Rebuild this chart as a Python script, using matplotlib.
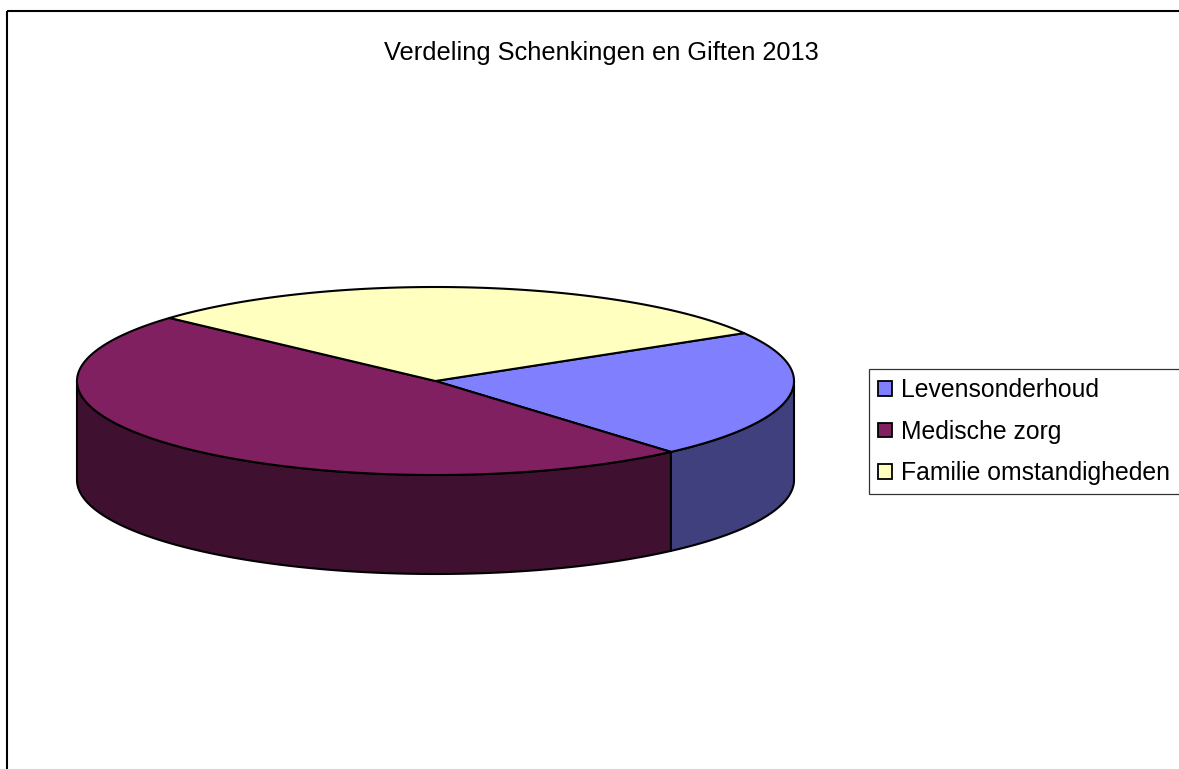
import numpy as np
import matplotlib
matplotlib.use("Agg")
import matplotlib.pyplot as plt
from matplotlib.patches import Polygon, Patch, Rectangle

# ---- data ----
title = "Verdeling Schenkingen en Giften 2013"
categories = ["Levensonderhoud", "Medische zorg", "Familie omstandigheden"]
values = [22.1, 48.1, 29.8]
top_colors = ["#8080FF", "#802060", "#FFFFC0"]
side_colors = ["#40407F", "#401030", "#808060"]

# ---- geometry (pixels) ----
W, H = 1179, 769
cx, cy = 435.5, 381.0
rx, ry = 358.5, 94.0
depth = 99.0
start_angle = 30.6  # degrees, slices run clockwise

plt.rcParams['font.family'] = ['Liberation Sans', 'DejaVu Sans']

fig = plt.figure(figsize=(W / 100, H / 100), dpi=100)
ax = fig.add_axes([0, 0, 1, 1])
ax.set_xlim(0, W)
ax.set_ylim(H, 0)
ax.axis('off')

# outer chart frame
ax.add_patch(Rectangle((7, 11), W + 50, H + 50, fill=False, edgecolor='black',
                       linewidth=1.5, zorder=1))

def pt(theta_deg, dy=0.0):
    t = np.radians(theta_deg)
    return cx + rx * np.cos(t), cy - ry * np.sin(t) + dy

vals = np.asarray(values, dtype=float)
frac = vals / vals.sum()
cum = np.concatenate([[0], np.cumsum(frac)])
bounds = [(start_angle - cum[i] * 360, start_angle - cum[i + 1] * 360)
          for i in range(len(vals))]

edge_kw = dict(edgecolor='black', linewidth=1.5, joinstyle='round')

# side walls (front half only)
for (a0, a1), col in zip(bounds, side_colors):
    lo, hi = a1, a0
    for k in range(-2, 3):
        f_lo, f_hi = -180 + 360 * k, 360 * k
        s_lo, s_hi = max(lo, f_lo), min(hi, f_hi)
        if s_hi - s_lo <= 0:
            continue
        th = np.linspace(s_lo, s_hi, 200)
        top = [pt(t) for t in th]
        bot = [pt(t, depth) for t in th[::-1]]
        ax.add_patch(Polygon(top + bot, closed=True, facecolor=col, zorder=2, **edge_kw))

# top faces
for (a0, a1), col in zip(bounds, top_colors):
    th = np.linspace(a0, a1, 300)
    pts = [(cx, cy)] + [pt(t) for t in th]
    ax.add_patch(Polygon(pts, closed=True, facecolor=col, zorder=3, **edge_kw))

# title
ax.text(601.5, 53, title, ha='center', va='center', fontsize=18.3, color='black')

# legend
handles = [Patch(facecolor=c, edgecolor='black', linewidth=1.3) for c in top_colors]
leg = fig.legend(handles, categories, loc='upper left',
                 bbox_to_anchor=(869 / W, 1 - 369 / H),
                 fontsize=17.8, frameon=True, fancybox=False, shadow=False,
                 handlelength=0.55, handleheight=0.55, handletextpad=0.38,
                 borderpad=0.38, labelspacing=0.70, borderaxespad=0)
leg.get_frame().set_edgecolor('black')
leg.get_frame().set_linewidth(0.9)

fig.savefig("out.png", dpi=100)
